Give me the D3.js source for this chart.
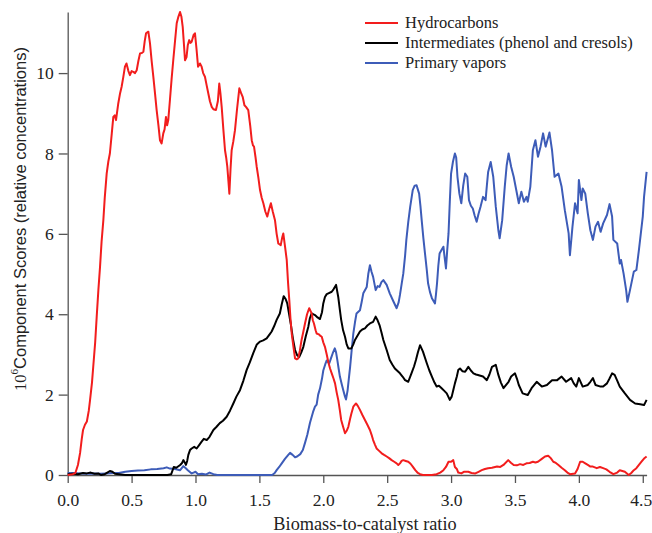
<!DOCTYPE html>
<html>
<head>
<meta charset="utf-8">
<script src="https://cdn.jsdelivr.net/npm/d3@7/dist/d3.min.js"></script>
<style>
  html, body { margin: 0; padding: 0; background: #fff; }
  svg { display: block; }
</style>
</head>
<body>
<svg id="chart" width="652" height="533"></svg>
<script>
// Component scores versus biomass-to-catalyst ratio, as [ratio, score] pairs.
const hydrocarbons = [
  [0,0],[0.04,0.02],[0.06,0.05],[0.08,0.25],[0.097,0.55],[0.11,0.9],[0.12,1.12],[0.135,1.25],[0.15,1.33],[0.165,1.6],
  [0.175,1.87],[0.19,2.3],[0.2,2.7],[0.215,3.3],[0.227,3.94],[0.24,4.6],[0.253,5.18],[0.265,5.8],[0.279,6.34],[0.29,6.9],
  [0.305,7.5],[0.318,7.8],[0.33,8.0],[0.345,8.5],[0.357,8.91],[0.368,8.95],[0.378,8.83],[0.396,9.25],[0.41,9.5],[0.422,9.66],
  [0.435,9.9],[0.448,10.16],[0.46,10.24],[0.475,10.05],[0.487,9.95],[0.5,10.05],[0.513,10.03],[0.527,10.0],[0.54,10.07],[0.553,10.3],
  [0.566,10.49],[0.58,10.5],[0.592,10.53],[0.603,10.8],[0.613,10.99],[0.631,11.03],[0.644,10.74],[0.657,10.3],[0.67,9.91],[0.683,9.5],
  [0.696,9.08],[0.71,8.7],[0.722,8.33],[0.735,8.25],[0.748,8.5],[0.758,8.6],[0.769,8.91],[0.778,8.7],[0.787,8.83],[0.8,9.33],
  [0.813,9.85],[0.826,10.32],[0.84,10.8],[0.853,11.24],[0.866,11.4],[0.879,11.52],[0.89,11.4],[0.9,11.15],[0.91,10.7],[0.918,10.32],
  [0.93,10.4],[0.94,10.7],[0.951,10.82],[0.96,10.75],[0.97,10.78],[0.985,10.95],[0.996,10.99],[1.008,10.6],[1.02,10.16],[1.035,10.24],
  [1.048,10.16],[1.06,10.0],[1.074,9.91],[1.087,9.7],[1.1,9.5],[1.113,9.3],[1.127,9.16],[1.14,9.1],[1.16,9.08],[1.175,9.3],
  [1.186,9.74],[1.195,9.5],[1.205,9.16],[1.218,8.6],[1.231,8.08],[1.24,7.9],[1.249,7.67],[1.258,7.3],[1.265,7.0],[1.274,7.6],
  [1.283,8.08],[1.296,8.3],[1.309,8.58],[1.325,9.1],[1.343,9.62],[1.357,9.5],[1.37,9.4],[1.383,9.2],[1.395,9.16],[1.413,9.08],
  [1.428,8.7],[1.44,8.33],[1.45,8.2],[1.458,8.17],[1.47,7.9],[1.479,7.67],[1.492,7.4],[1.505,7.09],[1.518,6.9],[1.531,6.76],
  [1.547,6.55],[1.562,6.43],[1.575,6.6],[1.59,6.76],[1.605,6.55],[1.622,6.34],[1.635,6.0],[1.648,5.76],[1.667,5.72],[1.678,5.9],
  [1.687,6.01],[1.7,5.7],[1.714,5.35],[1.724,4.8],[1.734,4.35],[1.743,3.9],[1.753,3.52],[1.766,3.2],[1.779,2.9],[1.792,2.88],
  [1.804,2.9],[1.817,3.1],[1.83,3.36],[1.843,3.55],[1.857,3.77],[1.873,4.0],[1.89,4.15],[1.909,4.02],[1.918,3.85],[1.927,3.77],
  [1.94,3.6],[1.948,3.52],[1.965,3.5],[1.978,3.46],[1.988,3.44],[2.0,3.3],[2.013,3.19],[2.027,3.0],[2.04,2.8],[2.053,2.65],
  [2.066,2.53],[2.08,2.4],[2.092,2.28],[2.105,2.05],[2.117,1.87],[2.13,1.6],[2.14,1.37],[2.155,1.2],[2.17,1.04],[2.183,1.1],
  [2.196,1.2],[2.21,1.4],[2.22,1.53],[2.235,1.7],[2.256,1.78],[2.27,1.72],[2.287,1.62],[2.305,1.5],[2.326,1.37],[2.345,1.25],
  [2.365,1.12],[2.378,1.0],[2.39,0.87],[2.405,0.75],[2.417,0.66],[2.437,0.6],[2.457,0.54],[2.476,0.5],[2.496,0.46],[2.515,0.42],
  [2.535,0.37],[2.555,0.33],[2.574,0.29],[2.587,0.25],[2.6,0.29],[2.613,0.35],[2.626,0.37],[2.645,0.35],[2.665,0.33],[2.683,0.28],
  [2.7,0.21],[2.72,0.12],[2.74,0.05],[2.757,0.02],[2.78,0],[2.81,0],[2.85,0],[2.887,0.02],[2.915,0.06],[2.94,0.12],
  [2.96,0.2],[2.98,0.33],[3.0,0.33],[3.017,0.37],[3.03,0.2],[3.045,0.15],[3.056,0.06],[3.08,0.04],[3.1,0.08],[3.135,0.08],
  [3.16,0.05],[3.19,0.04],[3.215,0.08],[3.24,0.12],[3.265,0.15],[3.29,0.17],[3.32,0.18],[3.36,0.21],[3.385,0.2],[3.41,0.25],
  [3.447,0.37],[3.47,0.3],[3.49,0.25],[3.515,0.24],[3.54,0.27],[3.565,0.25],[3.59,0.29],[3.615,0.3],[3.64,0.33],[3.66,0.31],
  [3.68,0.33],[3.71,0.4],[3.735,0.46],[3.76,0.48],[3.78,0.42],[3.8,0.33],[3.82,0.3],[3.84,0.25],[3.865,0.18],[3.89,0.12],
  [3.91,0.06],[3.93,0.02],[3.97,0.04],[3.99,0.15],[4.01,0.33],[4.03,0.33],[4.05,0.29],[4.07,0.25],[4.09,0.21],[4.11,0.21],
  [4.14,0.17],[4.165,0.2],[4.19,0.17],[4.215,0.14],[4.24,0.08],[4.27,0.02],[4.3,0.06],[4.32,0.12],[4.34,0.1],[4.36,0.08],
  [4.39,0],[4.41,0.05],[4.43,0.12],[4.45,0.17],[4.47,0.25],[4.49,0.33],[4.51,0.41],[4.53,0.46]
];

const intermediates = [
  [0,0.02],[0.04,0.03],[0.08,0.02],[0.12,0.05],[0.15,0.04],[0.18,0.06],[0.21,0.03],[0.24,0.04],[0.26,0],[0.29,0.02],
  [0.31,0.06],[0.33,0.1],[0.35,0.08],[0.37,0.03],[0.4,0.02],[0.45,0],[0.5,0],[0.6,0],[0.7,0],[0.78,0],
  [0.81,0.02],[0.83,0.2],[0.85,0.18],[0.88,0.25],[0.895,0.3],[0.905,0.37],[0.918,0.3],[0.925,0.25],[0.935,0.35],[0.944,0.5],
  [0.957,0.62],[0.97,0.66],[0.99,0.7],[1.009,0.66],[1.03,0.75],[1.048,0.83],[1.065,0.9],[1.088,0.87],[1.11,0.95],[1.14,1.12],
  [1.165,1.2],[1.19,1.29],[1.215,1.35],[1.244,1.45],[1.27,1.6],[1.296,1.78],[1.32,1.95],[1.348,2.11],[1.375,2.35],[1.4,2.61],
  [1.425,2.8],[1.452,3.03],[1.48,3.25],[1.505,3.32],[1.53,3.35],[1.557,3.4],[1.58,3.5],[1.596,3.57],[1.615,3.7],[1.635,3.86],
  [1.66,4.02],[1.675,4.25],[1.69,4.45],[1.705,4.38],[1.718,4.27],[1.73,4.05],[1.745,3.77],[1.762,3.4],[1.779,3.11],[1.795,2.98],
  [1.812,2.94],[1.828,3.05],[1.844,3.19],[1.863,3.45],[1.883,3.69],[1.895,3.9],[1.909,4.02],[1.935,3.98],[1.955,3.92],[1.974,3.88],
  [1.99,4.05],[2.0,4.27],[2.013,4.43],[2.027,4.5],[2.04,4.52],[2.066,4.56],[2.08,4.62],[2.1,4.73],[2.117,4.43],[2.13,4.1],
  [2.14,3.86],[2.155,3.6],[2.17,3.44],[2.183,3.25],[2.196,3.15],[2.22,3.15],[2.235,3.25],[2.248,3.36],[2.265,3.45],[2.287,3.57],
  [2.305,3.62],[2.326,3.65],[2.345,3.72],[2.365,3.77],[2.39,3.81],[2.41,3.94],[2.425,3.85],[2.44,3.73],[2.455,3.55],[2.47,3.36],
  [2.496,3.11],[2.52,2.86],[2.54,2.75],[2.56,2.65],[2.6,2.53],[2.62,2.45],[2.64,2.36],[2.665,2.32],[2.69,2.53],[2.71,2.7],
  [2.725,2.86],[2.74,3.05],[2.757,3.23],[2.78,3.07],[2.81,2.78],[2.83,2.6],[2.85,2.45],[2.87,2.3],[2.887,2.2],[2.905,2.22],
  [2.926,2.16],[2.945,2.1],[2.966,2.03],[2.99,1.87],[3.005,1.95],[3.017,2.11],[3.03,2.28],[3.045,2.45],[3.056,2.61],[3.07,2.65],
  [3.09,2.58],[3.11,2.57],[3.135,2.69],[3.155,2.6],[3.175,2.53],[3.195,2.5],[3.21,2.49],[3.23,2.47],[3.25,2.45],[3.28,2.36],
  [3.3,2.5],[3.32,2.69],[3.35,2.74],[3.37,2.49],[3.39,2.3],[3.41,2.16],[3.45,2.32],[3.47,2.45],[3.5,2.53],[3.515,2.4],
  [3.53,2.24],[3.56,2.03],[3.6,1.99],[3.63,2.16],[3.67,2.32],[3.71,2.2],[3.75,2.24],[3.79,2.36],[3.83,2.36],[3.865,2.45],
  [3.9,2.32],[3.94,2.41],[3.96,2.28],[3.98,2.2],[4.0,2.41],[4.03,2.2],[4.07,2.24],[4.09,2.32],[4.11,2.41],[4.13,2.24],
  [4.17,2.2],[4.19,2.2],[4.22,2.28],[4.24,2.4],[4.26,2.53],[4.28,2.49],[4.3,2.35],[4.32,2.2],[4.36,2.03],[4.4,1.87],
  [4.44,1.78],[4.48,1.76],[4.51,1.74],[4.53,1.87]
];

const primaryVapors = [
  [0,0.05],[0.05,0.05],[0.1,0.04],[0.15,0.03],[0.2,0.04],[0.25,0.03],[0.3,0.04],[0.35,0.05],[0.4,0.05],[0.45,0.08],
  [0.5,0.1],[0.55,0.11],[0.6,0.12],[0.65,0.14],[0.7,0.15],[0.75,0.17],[0.775,0.19],[0.8,0.16],[0.84,0.15],[0.88,0.12],
  [0.905,0.22],[0.92,0.18],[0.94,0.12],[0.97,0.04],[0.985,0.06],[1.0,0.08],[1.02,0.02],[1.05,0.03],[1.08,0.01],[1.11,0.06],
  [1.14,0.02],[1.17,0],[1.3,0],[1.45,0],[1.6,0],[1.62,0.05],[1.635,0.12],[1.655,0.2],[1.675,0.29],[1.7,0.4],
  [1.726,0.5],[1.74,0.55],[1.76,0.5],[1.779,0.44],[1.795,0.46],[1.82,0.52],[1.84,0.62],[1.857,0.8],[1.875,1.0],[1.896,1.3],
  [1.92,1.57],[1.935,1.7],[1.948,1.75],[1.96,2.0],[1.974,2.15],[1.99,2.4],[2.0,2.6],[2.015,2.75],[2.027,2.85],[2.047,2.78],
  [2.06,2.9],[2.074,3.03],[2.09,3.15],[2.1,3.05],[2.11,2.86],[2.12,2.65],[2.13,2.45],[2.145,2.25],[2.157,2.1],[2.17,1.95],
  [2.178,1.88],[2.19,2.1],[2.2,2.4],[2.21,2.69],[2.222,3.1],[2.235,3.52],[2.248,3.8],[2.26,4.02],[2.287,4.1],[2.3,4.3],
  [2.313,4.52],[2.34,4.68],[2.352,5.0],[2.365,5.22],[2.378,5.05],[2.39,4.93],[2.41,4.6],[2.425,4.7],[2.44,4.68],[2.455,4.8],
  [2.47,4.85],[2.496,4.73],[2.52,4.52],[2.55,4.31],[2.574,4.15],[2.59,4.3],[2.6,4.48],[2.613,4.75],[2.626,5.01],[2.64,5.45],
  [2.65,5.85],[2.665,6.3],[2.68,6.67],[2.7,7.09],[2.715,7.2],[2.73,7.21],[2.75,7.0],[2.76,6.7],[2.77,6.34],[2.783,5.9],
  [2.796,5.51],[2.81,5.1],[2.82,4.77],[2.835,4.55],[2.85,4.4],[2.874,4.27],[2.882,4.5],[2.89,4.77],[2.9,5.2],[2.91,5.51],
  [2.925,5.6],[2.94,5.68],[2.95,5.4],[2.96,5.14],[2.97,5.6],[2.98,6.01],[2.99,6.8],[3.0,7.5],[3.015,7.8],[3.03,8.0],
  [3.04,7.9],[3.05,7.42],[3.065,7.0],[3.08,6.76],[3.095,7.2],[3.11,7.5],[3.127,7.42],[3.14,6.84],[3.155,6.7],[3.17,6.63],
  [3.185,6.45],[3.2,6.3],[3.215,6.5],[3.23,6.67],[3.25,6.92],[3.27,6.84],[3.28,7.2],[3.29,7.54],[3.31,7.79],[3.33,7.42],
  [3.35,6.67],[3.37,6.09],[3.38,5.89],[3.4,6.34],[3.42,7.17],[3.435,7.7],[3.45,8.0],[3.47,7.67],[3.49,7.42],[3.51,7.09],
  [3.53,6.76],[3.55,7.05],[3.57,6.8],[3.59,6.92],[3.6,6.8],[3.62,7.17],[3.64,8.08],[3.66,8.33],[3.68,7.92],[3.7,8.17],
  [3.72,8.5],[3.74,8.17],[3.77,8.52],[3.79,8.08],[3.81,7.42],[3.84,7.5],[3.865,7.17],[3.89,6.59],[3.92,6.01],[3.93,5.47],
  [3.95,6.18],[3.97,6.76],[3.99,6.51],[4.0,7.34],[4.02,6.84],[4.03,7.13],[4.05,7.0],[4.07,6.51],[4.09,6.09],[4.11,5.85],
  [4.13,6.18],[4.15,6.3],[4.17,6.05],[4.19,6.26],[4.22,6.47],[4.24,6.74],[4.26,6.43],[4.27,5.85],[4.3,5.76],[4.32,5.26],
  [4.33,5.35],[4.35,5.01],[4.37,4.6],[4.38,4.31],[4.4,4.6],[4.43,5.06],[4.45,5.1],[4.47,5.6],[4.5,6.43],[4.51,6.92],
  [4.53,7.54]
];

const seriesNames = ["Hydrocarbons", "Intermediates (phenol and cresols)", "Primary vapors"];
const seriesColors = ["#f21d1d", "#000000", "#3d5cb8"];
const xTicks = [0, 0.5, 1.0, 1.5, 2.0, 2.5, 3.0, 3.5, 4.0, 4.5];
const yTicks = [0, 2, 4, 6, 8, 10];
const xTitle = "Biomass-to-catalyst ratio";

const svg = d3.select("#chart");
const serif = "'Liberation Serif', 'Times New Roman', serif";
const sans = "'Liberation Sans', Arial, sans-serif";

const x = d3.scaleLinear().domain([0, 4.53]).range([67.7, 646.6]);
const y = d3.scaleLinear().domain([0, 11.52]).range([475, 12]);

// Axes
const xAxis = svg.append("g")
  .attr("transform", `translate(0,${y(0)})`)
  .call(d3.axisBottom(x).tickValues(xTicks).tickFormat(d3.format(".1f"))
    .tickSizeInner(8).tickSizeOuter(0).tickPadding(11));
const yAxis = svg.append("g")
  .attr("transform", `translate(${x(0)},0)`)
  .call(d3.axisLeft(y).tickValues(yTicks).tickFormat(d3.format("d"))
    .tickSizeInner(9).tickSizeOuter(0).tickPadding(5));

[xAxis, yAxis].forEach(g => {
  g.select(".domain").attr("stroke", "#555").attr("stroke-width", 1.3);
  g.selectAll(".tick line").attr("stroke", "#555").attr("stroke-width", 1.3);
  g.selectAll(".tick text").attr("fill", "#222")
    .style("font-family", serif).style("font-size", "17.5px");
});
// keep the last x label inside the right edge of the page
xAxis.selectAll(".tick text").filter(d => d === 4.5).attr("dx", "-2");

// Series lines
const line = d3.line().x(d => x(d[0])).y(d => y(d[1]));
const seriesData = [hydrocarbons, intermediates, primaryVapors];
// blue first, then black, with red drawn last
[2, 1, 0].forEach(i => {
  svg.append("path")
    .datum(seriesData[i])
    .attr("fill", "none")
    .attr("stroke", seriesColors[i])
    .attr("stroke-width", 2)
    .attr("stroke-linejoin", "round")
    .attr("d", line);
});

// Axis titles
svg.append("text")
  .attr("x", 365).attr("y", 530)
  .attr("text-anchor", "middle")
  .attr("fill", "#222")
  .style("font-family", serif).style("font-size", "18.3px")
  .text(xTitle);

const yt = svg.append("text")
  .attr("transform", "translate(26,219) rotate(-90)")
  .attr("text-anchor", "middle")
  .attr("fill", "#222")
  .style("font-size", "16.5px");
yt.append("tspan").style("font-family", serif).text("10");
yt.append("tspan").style("font-family", serif).style("font-size", "11px").attr("dy", "-0.75em").text("6");
yt.append("tspan").style("font-family", sans).attr("dy", "0.5em").text("Component Scores (relative concentrations)");

// Legend
const legend = svg.append("g");
seriesNames.forEach((name, i) => {
  const ly = 23 + i * 20;
  legend.append("line")
    .attr("x1", 365).attr("x2", 398).attr("y1", ly).attr("y2", ly)
    .attr("stroke", seriesColors[i]).attr("stroke-width", 2);
  legend.append("text")
    .attr("x", 405).attr("y", ly).attr("dy", "0.33em")
    .attr("fill", "#222")
    .style("font-family", serif).style("font-size", "16.5px")
    .text(name);
});
</script>
</body>
</html>
